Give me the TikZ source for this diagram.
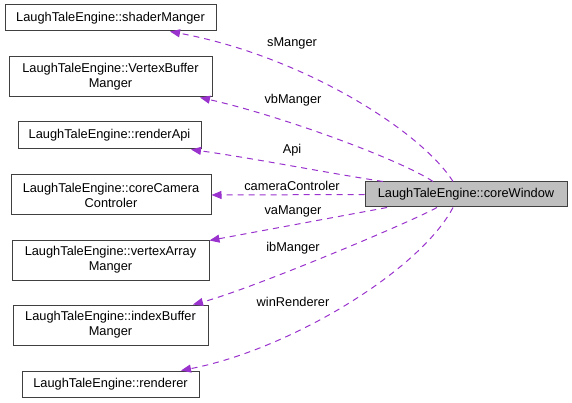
\documentclass[tikz,border=0pt]{standalone}
\usepackage{fontspec}
\setmainfont{Liberation Sans}
\usetikzlibrary{arrows.meta}
\definecolor{edgec}{HTML}{9A32CD}
\definecolor{boxc}{HTML}{404040}
\definecolor{winfill}{HTML}{BFBFBF}
\begin{document}
\begin{tikzpicture}[x=1pt,y=-1pt,
  cls/.style={draw=boxc, line width=1pt, fill=white, inner sep=0pt, align=center,
    font=\fontsize{12.8}{15}\selectfont},
  rel/.style={draw=edgec, line width=1pt, dash pattern=on 6pt off 5pt,
    -{Triangle[length=10pt,width=8pt,fill=edgec]}},
  lbl/.style={font=\fontsize{12.8}{15}\selectfont, inner sep=0pt}]
\useasboundingbox (0,0) rectangle (572,403);
\node[cls, minimum width=211pt, minimum height=26pt] (shader) at (110.5,18) {LaughTaleEngine::shaderManger};
\node[cls, minimum width=203pt, minimum height=40pt] (vb) at (110.5,77) {LaughTaleEngine::VertexBuffer\\Manger};
\node[cls, minimum width=183pt, minimum height=27pt] (api) at (109.5,135.5) {LaughTaleEngine::renderApi};
\node[cls, minimum width=200pt, minimum height=40pt] (cam) at (111,195) {LaughTaleEngine::coreCamera\\Controler};
\node[cls, minimum width=197pt, minimum height=40pt] (va) at (110.5,260) {LaughTaleEngine::vertexArray\\Manger};
\node[cls, minimum width=195pt, minimum height=40pt] (ib) at (110.5,325) {LaughTaleEngine::indexBuffer\\Manger};
\node[cls, minimum width=177pt, minimum height=26pt] (rend) at (110.5,384) {LaughTaleEngine::renderer};
\node[cls, fill=winfill, minimum width=202pt, minimum height=25pt] (win) at (466,194.5) {LaughTaleEngine::coreWindow};

\draw[rel] ([xshift=-13pt]win.north) .. controls +(-33,-52) and +(130,24) .. ([xshift=59.5pt]shader.south);
\draw[rel] ([xshift=-33pt]win.north) .. controls +(-33,-22) and +(80,18) .. ([xshift=89.5pt]vb.south);
\draw[rel] ([xshift=-83pt]win.north) .. controls +(-64,-10) and +(64,9) .. ([xshift=81.5pt]api.south);
\draw[rel] (win.west) -- (cam.east);
\draw[rel] ([xshift=-79pt]win.south) -- ([yshift=-1pt]va.north east);
\draw[rel] ([xshift=-29pt]win.south) .. controls +(-27,15) and +(57,-15) .. ([xshift=82.5pt]ib.north);
\draw[rel] ([xshift=-13pt]win.south) .. controls +(-33,63) and +(109,-21) .. ([xshift=70.5pt]rend.north);

\node[lbl] (l1) at (292,43) {sManger};
\node[lbl] (l2) at (293,100) {vbManger};
\node[lbl] (l3) at (292,150) {Api};
\node[lbl] (l4) at (292,186) {cameraControler};
\node[lbl] (l5) at (293,211) {vaManger};
\node[lbl] (l6) at (293,248) {ibManger};
\node[lbl] (l7) at (293,302) {winRenderer};
\end{tikzpicture}
\end{document}
